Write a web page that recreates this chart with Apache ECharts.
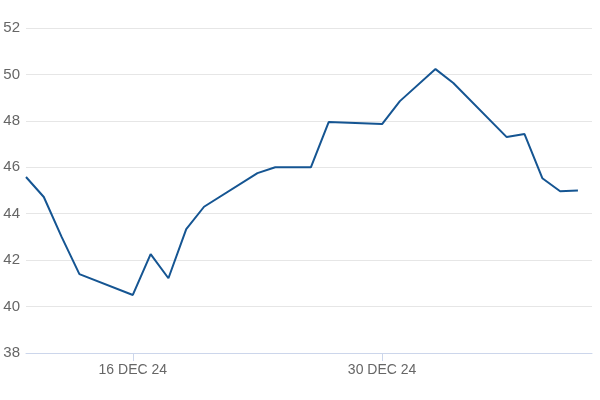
<!DOCTYPE html>
<html>
<head>
<meta charset="utf-8">
<script src="https://cdn.jsdelivr.net/npm/echarts@6/dist/echarts.min.js"></script>
<style>
html,body{margin:0;padding:0;background:#fff;}
#chart{width:600px;height:400px;}
</style>
</head>
<body>
<div id="chart"></div>
<script>
var dates = ['2024-12-10','2024-12-11','2024-12-12','2024-12-13','2024-12-16','2024-12-17','2024-12-18','2024-12-19','2024-12-20','2024-12-23','2024-12-24','2024-12-26','2024-12-27','2024-12-30','2024-12-31','2025-01-02','2025-01-03','2025-01-06','2025-01-07','2025-01-08','2025-01-09','2025-01-10'];
var values = [45.58, 44.72, 43.0, 41.4, 40.5, 42.26, 41.22, 43.34, 44.3, 45.75, 46.0, 46.0, 47.95, 47.86, 48.85, 50.23, 49.63, 47.3, 47.43, 45.53, 44.97, 45.0];
var tickDates = ['2024-12-16','2024-12-30'];
var yTicks = {min: 38, max: 52, interval: 2};
var months = ['JAN','FEB','MAR','APR','MAY','JUN','JUL','AUG','SEP','OCT','NOV','DEC'];

var DAY = 86400000;
function ts(s){ var p = s.split('-'); return Date.UTC(+p[0], +p[1]-1, +p[2]); }
var seriesData = dates.map(function(d,i){ return [ts(d), values[i]]; });
var tickVals = tickDates.map(ts);

var chart = echarts.init(document.getElementById('chart'));
chart.setOption({
  animation: false,
  grid: {left: 26, right: 8, top: 28, bottom: 47, containLabel: false},
  xAxis: {
    type: 'value',
    scale: true,
    min: ts('2024-12-10'),
    max: ts('2025-01-10') + 0.79*DAY,
    axisLine: {show: true, lineStyle: {color: '#ccd6eb', width: 1}},
    axisTick: {show: true, customValues: tickVals, length: 8, lineStyle: {color: '#ccd6eb'}},
    axisLabel: {
      customValues: tickVals,
      color: '#666666',
      fontSize: 14,
      fontFamily: 'Liberation Sans, Arial, sans-serif',
      margin: 10,
      formatter: function(v){
        var d = new Date(v);
        return d.getUTCDate() + ' ' + months[d.getUTCMonth()] + ' ' + String(d.getUTCFullYear()).slice(2);
      }
    },
    splitLine: {show: false}
  },
  yAxis: {
    type: 'value',
    min: yTicks.min, max: yTicks.max, interval: yTicks.interval,
    axisLine: {show: false},
    axisTick: {show: false},
    axisLabel: {color: '#666666', fontSize: 15, fontFamily: 'Liberation Sans, Arial, sans-serif', margin: 6},
    splitLine: {show: true, lineStyle: {color: '#e6e6e6', width: 1}}
  },
  series: [{
    type: 'line',
    data: seriesData,
    showSymbol: false,
    symbol: 'none',
    lineStyle: {color: '#155592', width: 2},
    itemStyle: {color: '#155592'}
  }]
});
</script>
</body>
</html>
